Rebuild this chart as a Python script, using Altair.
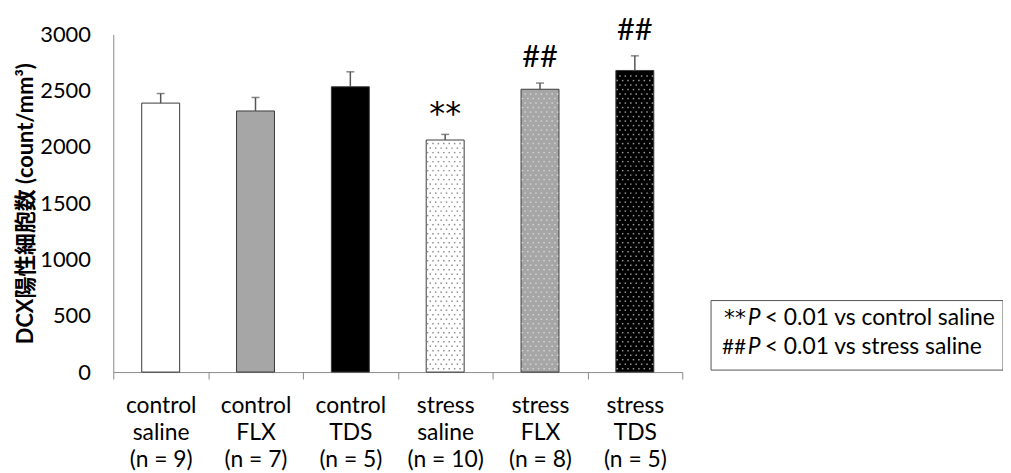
import altair as alt
import pandas as pd

# ---- data ----
line1 = ["control", "control", "control", "stress", "stress", "stress"]
line2 = ["saline", "FLX", "TDS", "saline", "FLX", "TDS"]
line3 = ["(n = 9)", "(n = 7)", "(n = 5)", "(n = 10)", "(n = 8)", "(n = 5)"]
means = [2390, 2320, 2535, 2062, 2513, 2680]
sems = [85, 120, 133, 50, 55, 130]
sig_marks = ["", "", "", "**", "##", "##"]
fills = ["#ffffff", "#a6a6a6", "#000000", "#ffffff", "#a6a6a6", "#000000"]
dot_colors = ["", "", "", "#8c8c8c", "#d4d4d4", "#9a9a9a"]
legend_sym = ["**", "##"]
legend_rest = ["< 0.01 vs control saline", "< 0.01 vs stress saline"]
y_ticks = [0, 500, 1000, 1500, 2000, 2500, 3000]
y_title = "DCX陽性細胞数 (count/mm³)"

FONT = "Lato, 'Noto Sans CJK JP', sans-serif"
W, H = 573, 340

idx = list(range(len(means)))
df = pd.DataFrame({"idx": idx, "mean": means, "sem": sems,
                   "fill": fills, "mark": sig_marks})

# dotted texture inside the patterned bars (decoration only)
rows = []
for i, m, c in zip(idx, means, dot_colors):
    if not c:
        continue
    yv = 30
    r = 0
    while yv < m - 15:
        for k in range(7):
            rows.append({"dx": i + 0.3 + (k + 0.5 + (0.5 if r % 2 else 0) - 0.25) * 0.4 / 7,
                         "dy": yv, "dc": c})
        yv += 40
        r += 1
dots = pd.DataFrame(rows)

label_arr = "[" + ",".join(
    "['%s','%s','%s']" % (a, b, c) for a, b, c in zip(line1, line2, line3)) + "]"

xscale = alt.Scale(domain=[0, len(means)], nice=False, zero=False)
yscale = alt.Scale(domain=[0, 3000], nice=False)

xaxis = alt.Axis(
    values=list(range(len(means) + 1)), title=None, grid=False,
    tickSize=7, tickColor="#8a8a8a", domainColor="#8a8a8a", tickWidth=1,
    labelOffset=W / len(means) / 2, labelPadding=16,
    labelExpr="datum.value < %d ? %s[datum.value] : ''" % (len(means), label_arr),
    labelFont=FONT, labelFontSize=23, labelColor="#000000",
    labelLineHeight=27, labelBaseline="top", labelOverlap=False,
    labelFlush=False, labelBound=False,
)
yaxis = alt.Axis(
    values=y_ticks, title=y_title, grid=False, ticks=False, format="d",
    domainColor="#8a8a8a", labelPadding=23,
    labelFont=FONT, labelFontSize=22, labelColor="#000000",
    titleFont=FONT, titleFontSize=22, titleFontWeight="bold",
    titleColor="#000000", titlePadding=2,
)

base = alt.Chart(df).transform_calculate(
    xl="datum.idx + 0.3", xr="datum.idx + 0.7",
    xc="datum.idx + 0.5", top="datum.mean + datum.sem",
)

bars = base.mark_rect(stroke="#3a3a3a", strokeWidth=1).encode(
    x=alt.X("xl:Q", scale=xscale, axis=xaxis),
    x2="xr:Q",
    y=alt.Y("mean:Q", scale=yscale, axis=yaxis),
    y2=alt.datum(0),
    fill=alt.Fill("fill:N", scale=None),
)

dot_layer = alt.Chart(dots).mark_square(size=2.2, opacity=1).encode(
    x=alt.X("dx:Q"),
    y=alt.Y("dy:Q"),
    color=alt.Color("dc:N", scale=None),
)

err = base.mark_rule(color="#555555", strokeWidth=1.5).encode(
    x="xc:Q", y="mean:Q", y2="top:Q",
)
cap = base.mark_tick(orient="horizontal", size=8, thickness=1.5,
                     color="#555555").encode(x="xc:Q", y="top:Q")
sig_hash = base.transform_filter("datum.mark == '##'").mark_text(
    font=FONT, fontSize=31, baseline="alphabetic", dy=-16,
    color="#000000").encode(x="xc:Q", y="top:Q", text="mark:N")
sig_star = base.transform_filter("datum.mark == '**'").mark_text(
    font="DejaVu Sans", fontSize=32, baseline="alphabetic", dy=-10,
    color="#000000").encode(x="xc:Q", y="top:Q", text="mark:N")

# legend box (annotation, pixel placed)
LFS = 23
leg_box = alt.Chart(pd.DataFrame({"k": [0]})).mark_rect(
    fill="#ffffff", stroke="#555555", strokeWidth=1).encode(
    x=alt.value(602), x2=alt.value(896), y=alt.value(268), y2=alt.value(338))
leg_layers = []
for r, (s, rest) in enumerate(zip(legend_sym, legend_rest)):
    yb = 293 + r * 29
    d = pd.DataFrame({"s": [s], "p": ["P"], "rest": [rest]})
    if r == 0:
        sym_mark = alt.Chart(d).mark_text(
            font="DejaVu Sans", fontSize=22, align="left",
            baseline="alphabetic", color="#000000")
        sx = 615
    else:
        sym_mark = alt.Chart(d).mark_text(
            font=FONT, fontSize=21, align="left",
            baseline="alphabetic", color="#000000")
        sx = 613
    leg_layers.append(sym_mark.encode(
        x=alt.value(sx), y=alt.value(yb), text="s:N"))
    leg_layers.append(alt.Chart(d).mark_text(
        font=FONT, fontSize=LFS, fontStyle="italic", align="left",
        baseline="alphabetic", color="#000000").encode(
        x=alt.value(639), y=alt.value(yb), text="p:N"))
    leg_layers.append(alt.Chart(d).mark_text(
        font=FONT, fontSize=LFS, align="left", baseline="alphabetic",
        color="#000000").encode(x=alt.value(656), y=alt.value(yb), text="rest:N"))

chart = alt.layer(
    bars, dot_layer, err, cap, sig_hash, sig_star, leg_box, *leg_layers
).properties(
    width=W, height=H,
    autosize=alt.AutoSizeParams(type="none"),
    padding={"left": 106, "top": 25, "right": 323, "bottom": 99},
).configure(background="#ffffff").configure_view(stroke=None)

chart.save("out.html", embed_options={"renderer": "svg", "actions": False})
